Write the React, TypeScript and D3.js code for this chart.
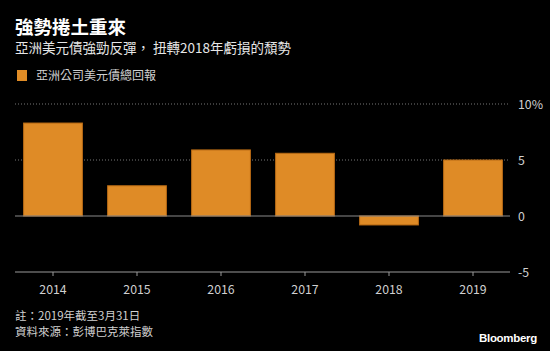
import React, { useEffect, useRef } from 'react';
import * as d3 from 'd3';

const years = ['2014', '2015', '2016', '2017', '2018', '2019'];
const returns = [8.3, 2.7, 5.9, 5.6, -0.8, 5.0];
const yTicks = [-5, 0, 5, 10];

const title = '強勢捲土重來';
const subtitle = '亞洲美元債強勁反彈， 扭轉2018年虧損的頹勢';
const legendLabel = '亞洲公司美元債總回報';
const notes = ['註：2019年截至3月31日', '資料來源：彭博巴克萊指數'];

const App = () => {
  const svgRef = useRef<SVGSVGElement | null>(null);

  useEffect(() => {
    const width = 550;
    const height = 351;
    const font = "'Noto Sans CJK TC', 'Noto Sans', sans-serif";

    const svg = d3.select(svgRef.current)
      .attr('width', width)
      .attr('height', height)
      .style('background', '#000')
      .style('font-family', font);
    svg.selectAll('*').remove();

    // Header
    svg.append('text')
      .attr('x', 15).attr('y', 34)
      .attr('fill', '#fff')
      .attr('font-size', 18.5)
      .attr('font-weight', 'bold')
      .text(title);

    svg.append('text')
      .attr('x', 15).attr('y', 53)
      .attr('fill', '#e6e6e6')
      .attr('font-size', 13.5)
      .text(subtitle);

    // Legend
    svg.append('rect')
      .attr('x', 17).attr('y', 70)
      .attr('width', 10).attr('height', 11)
      .attr('fill', '#e08c26');
    svg.append('text')
      .attr('x', 36).attr('y', 80)
      .attr('fill', '#d0d0d0')
      .attr('font-size', 12)
      .text(legendLabel);

    // Scales
    const x = d3.scaleBand<string>()
      .domain(years)
      .range([11, 515])
      .paddingInner(0.3)
      .paddingOuter(0.15);

    const y = d3.scaleLinear()
      .domain([-5, 10])
      .range([272, 104]);

    const left = 15;
    const right = 510;

    // Gridlines
    svg.append('g')
      .selectAll('line')
      .data(yTicks.filter(d => d > 0))
      .join('line')
      .attr('x1', left).attr('x2', right)
      .attr('y1', d => y(d)).attr('y2', d => y(d))
      .attr('stroke', '#777')
      .attr('stroke-width', 1)
      .attr('stroke-dasharray', '1,2');

    // Bars
    svg.append('g')
      .selectAll('rect')
      .data(returns)
      .join('rect')
      .attr('x', (d, i) => x(years[i])!)
      .attr('width', x.bandwidth())
      .attr('y', d => y(Math.max(0, d)))
      .attr('height', d => Math.abs(y(d) - y(0)))
      .attr('fill', '#df8b26')
      .attr('stroke', '#b86a14')
      .attr('stroke-width', 1);

    // Zero line
    svg.append('line')
      .attr('x1', left).attr('x2', right)
      .attr('y1', y(0)).attr('y2', y(0))
      .attr('stroke', '#8a8a8a')
      .attr('stroke-width', 1);

    // Bottom axis
    svg.append('line')
      .attr('x1', left).attr('x2', right)
      .attr('y1', y(-5)).attr('y2', y(-5))
      .attr('stroke', '#9a9a9a')
      .attr('stroke-width', 1.2);

    const xAxis = svg.append('g');
    xAxis.selectAll('line')
      .data(years)
      .join('line')
      .attr('x1', d => x(d)! + x.bandwidth() / 2)
      .attr('x2', d => x(d)! + x.bandwidth() / 2)
      .attr('y1', y(-5)).attr('y2', y(-5) + 4)
      .attr('stroke', '#9a9a9a');
    xAxis.selectAll('text')
      .data(years)
      .join('text')
      .attr('x', d => x(d)! + x.bandwidth() / 2)
      .attr('y', 294)
      .attr('text-anchor', 'middle')
      .attr('fill', '#d0d0d0')
      .attr('font-size', 12.3)
      .text(d => d);

    // Right y labels
    svg.append('g')
      .selectAll('text')
      .data(yTicks)
      .join('text')
      .attr('x', 518)
      .attr('y', d => y(d) + 4.5)
      .attr('fill', '#d0d0d0')
      .attr('font-size', 12.3)
      .text(d => (d === 10 ? '10%' : String(d)));

    // Footnotes
    svg.append('g')
      .selectAll('text')
      .data(notes)
      .join('text')
      .attr('x', 15)
      .attr('y', (d, i) => 319.5 + i * 16)
      .attr('fill', '#d0d0d0')
      .attr('font-size', 11.5)
      .text(d => d);

    svg.append('text')
      .attr('x', 537).attr('y', 341.5)
      .attr('text-anchor', 'end')
      .attr('fill', '#fff')
      .attr('font-size', 11.5)
      .attr('font-weight', 'bold')
      .attr('font-family', "'Liberation Sans', Arial, sans-serif")
      .attr('letter-spacing', -0.3)
      .text('Bloomberg');
  }, []);

  return (
    <div style={{ position: 'fixed', top: 0, left: 0 }}>
      <svg ref={svgRef}></svg>
    </div>
  );
};

export default App;
